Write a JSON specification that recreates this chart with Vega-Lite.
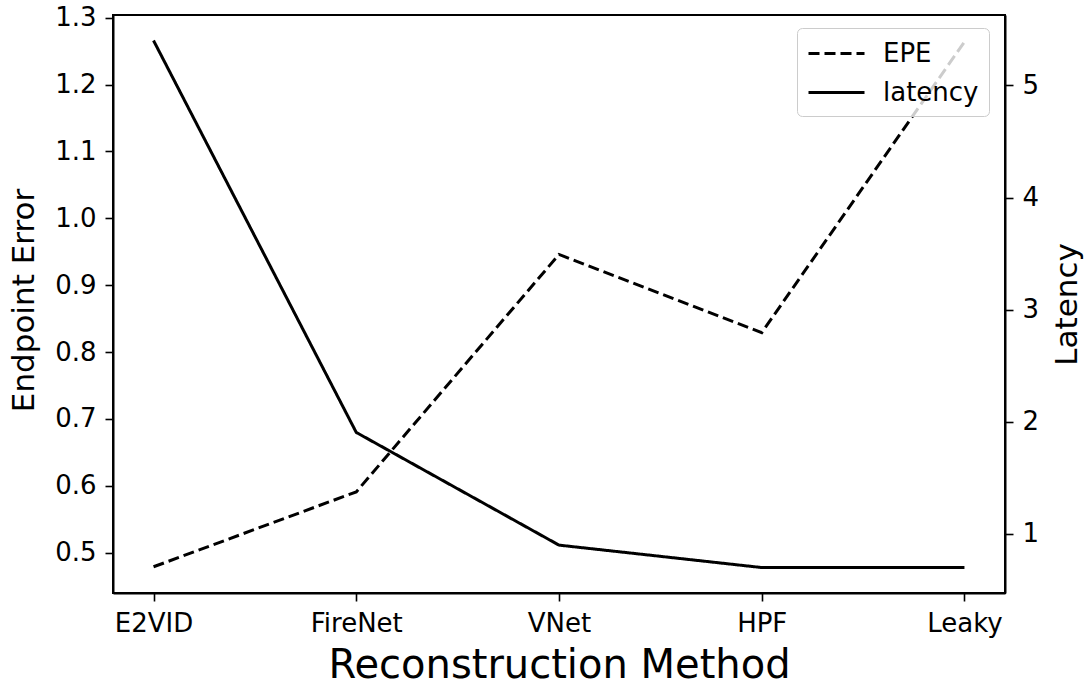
{
  "$schema": "https://vega.github.io/schema/vega-lite/v6.json",
  "autosize": "none",
  "width": 892,
  "height": 578,
  "padding": {"left": 113, "top": 15, "right": 79, "bottom": 93},
  "background": "white",
  "config": {
    "font": "DejaVu Sans",
    "view": {"stroke": "black", "strokeWidth": 2},
    "axis": {
      "grid": false,
      "domainColor": "black",
      "domainWidth": 2,
      "tickColor": "black",
      "tickWidth": 1.6,
      "tickSize": 8,
      "labelColor": "black",
      "labelFont": "DejaVu Sans",
      "labelFontSize": 26,
      "labelPadding": 9,
      "titleFont": "DejaVu Sans",
      "titleFontWeight": "normal",
      "titleColor": "black"
    }
  },
  "data": {
    "values": [
      {"method": "E2VID", "metric": "EPE", "value": 0.479},
      {"method": "FireNet", "metric": "EPE", "value": 0.591},
      {"method": "VNet", "metric": "EPE", "value": 0.946},
      {"method": "HPF", "metric": "EPE", "value": 0.829},
      {"method": "Leaky", "metric": "EPE", "value": 1.264},
      {"method": "E2VID", "metric": "latency", "value": 5.40},
      {"method": "FireNet", "metric": "latency", "value": 1.905},
      {"method": "VNet", "metric": "latency", "value": 0.90},
      {"method": "HPF", "metric": "latency", "value": 0.70},
      {"method": "Leaky", "metric": "latency", "value": 0.70}
    ]
  },
  "encoding": {
    "x": {
      "field": "method",
      "type": "nominal",
      "sort": ["E2VID", "FireNet", "VNet", "HPF", "Leaky"],
      "scale": {"type": "point", "padding": 0.2},
      "axis": {
        "labelAngle": 0,
        "title": "Reconstruction Method",
        "titleFontSize": 40,
        "titleX": 446,
        "titleY": 84,
        "titleAlign": "center",
        "titleBaseline": "alphabetic"
      }
    },
    "strokeDash": {
      "field": "metric",
      "type": "nominal",
      "scale": {"domain": ["EPE", "latency"], "range": [[11, 5], [1, 0]]},
      "legend": {
        "title": null,
        "orient": "none",
        "legendX": 684,
        "legendY": 13,
        "symbolType": "M-1,0H3",
        "symbolSize": 784,
        "symbolStrokeWidth": 3,
        "symbolStrokeColor": "black",
        "symbolFillColor": "transparent",
        "labelFontSize": 26,
        "labelColor": "black",
        "labelOffset": 45,
        "rowPadding": 10,
        "padding": 10,
        "fillColor": "rgba(255,255,255,0.8)",
        "strokeColor": "#cccccc",
        "cornerRadius": 5
      }
    }
  },
  "layer": [
    {
      "transform": [{"filter": "datum.metric === 'EPE'"}],
      "mark": {"type": "line", "color": "black", "strokeWidth": 3},
      "encoding": {
        "y": {
          "field": "value",
          "type": "quantitative",
          "scale": {"domain": [0.4398, 1.304], "nice": false, "zero": false},
          "axis": {
            "orient": "left",
            "values": [0.5, 0.6, 0.7, 0.8, 0.9, 1.0, 1.1, 1.2, 1.3],
            "format": ".1f",
            "title": "Endpoint Error",
            "titleFontSize": 31,
            "titleAngle": 270,
            "titleX": -89,
            "titleY": 285,
            "titleAlign": "center",
            "titleBaseline": "middle"
          }
        }
      }
    },
    {
      "transform": [{"filter": "datum.metric === 'latency'"}],
      "mark": {"type": "line", "color": "black", "strokeWidth": 3},
      "encoding": {
        "y": {
          "field": "value",
          "type": "quantitative",
          "scale": {"domain": [0.473, 5.628], "nice": false, "zero": false},
          "axis": {
            "orient": "right",
            "values": [1, 2, 3, 4, 5],
            "format": "d",
            "title": "Latency",
            "titleFontSize": 31,
            "titleAngle": 270,
            "titleX": 62,
            "titleY": 289,
            "titleAlign": "center",
            "titleBaseline": "middle"
          }
        }
      }
    }
  ],
  "resolve": {"scale": {"y": "independent"}}
}
